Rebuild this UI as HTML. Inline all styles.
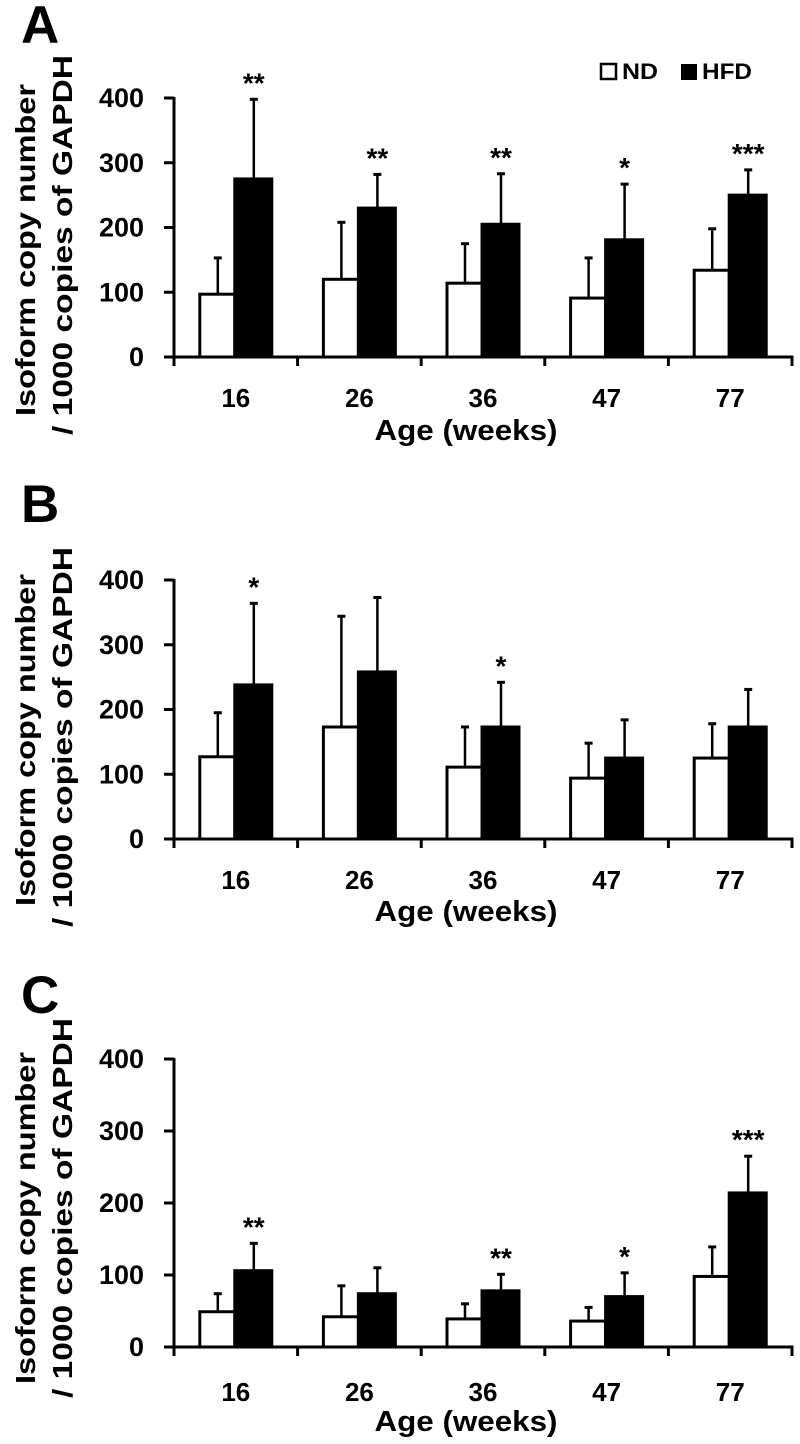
<!DOCTYPE html>
<html><head><meta charset="utf-8"><style>
html,body{margin:0;padding:0;background:#fff;}
svg{display:block;font-family:"Liberation Sans",sans-serif;font-weight:bold;}
</style></head><body>
<svg id="chart" width="800" height="1444" viewBox="0 0 800 1444" xmlns="http://www.w3.org/2000/svg">
<rect x="0" y="0" width="800" height="1444" fill="#fff"/>
<g>
<rect x="601" y="64" width="15" height="15" fill="#fff" stroke="#000" stroke-width="2.5"/>
<text x="622" y="79" font-size="22" textLength="36" lengthAdjust="spacingAndGlyphs">ND</text>
<rect x="681" y="64" width="16" height="16" fill="#000"/>
<text x="702" y="79" font-size="22" textLength="50" lengthAdjust="spacingAndGlyphs">HFD</text>
</g>
</svg>
<script>
const categories = ["16","26","36","47","77"];
const yTicks = [0,100,200,300,400];
const ndA = [97,120,114,91,134];
const ndSdA = [56,88,61,62,64];
const hfdA = [275,230,205,181,250];
const hfdSdA = [123,52,78,86,39];
const starsA = ["**","**","**","*","***"];
const ndB = [127,173,111,94,125];
const ndSdB = [68,171,62,54,53];
const hfdB = [238,258,173,125,173];
const hfdSdB = [126,115,69,59,58];
const starsB = ["*","","*","",""];
const ndC = [49,42,39,36,98];
const ndSdC = [25,43,21,19,41];
const hfdC = [106,74,78,70,214];
const hfdSdC = [38,36,23,33,51];
const starsC = ["**","","**","*","***"];

const NS = "http://www.w3.org/2000/svg";
const svg = document.getElementById("chart");
function mk(tag, attrs, parent){
  const e = document.createElementNS(NS, tag);
  for (const k in attrs) e.setAttribute(k, attrs[k]);
  (parent||svg).appendChild(e);
  return e;
}
const X0 = 174, X1 = 792, YMAX = 400;
function drawPanel(id, letter, letterY, yTop, yZero, nd, ndSd, hfd, hfdSd, stars, labelY, ageY, titleC1, titleC2){
  const g = mk("g", {});
  
  
  const yS = v => yZero - (v / YMAX) * (yZero - yTop);
  const gw = (X1 - X0) / categories.length;
  const xC = i => X0 + gw * (i + 0.5);

  const L = mk("text", {x: 21, y: letterY, "font-size": 53}, g);
  L.textContent = letter;
  
  

  const t1 = mk("text", {transform: "translate(35," + titleC1 + ") rotate(-90)", "text-anchor": "middle", "font-size": 28, textLength: 332, lengthAdjust: "spacingAndGlyphs"}, g);
  t1.textContent = "Isoform  copy  number";
  
  
  const t2 = mk("text", {transform: "translate(72," + titleC2 + ") rotate(-90)", "text-anchor": "middle", "font-size": 28, textLength: 380, lengthAdjust: "spacingAndGlyphs"}, g);
  t2.textContent = "/ 1000 copies of GAPDH";
  
  

  for (let i = 0; i < categories.length; i++){
    const c = xC(i);
    const nTop = yS(nd[i]), hTop = yS(hfd[i]);
    const ne = yS(nd[i] + ndSd[i]), he = yS(hfd[i] + hfdSd[i]);
    const ec1 = mk("line", {x1: c - 18, x2: c - 18, y1: nTop, y2: ne, stroke: "#000", "stroke-width": 2.5}, g);
    
    
    const cap1 = mk("line", {x1: c - 22, x2: c - 14, y1: ne, y2: ne, stroke: "#000", "stroke-width": 3}, g);
    
    
    const ec2 = mk("line", {x1: c + 18, x2: c + 18, y1: hTop, y2: he, stroke: "#000", "stroke-width": 2.5}, g);
    
    
    const cap2 = mk("line", {x1: c + 14, x2: c + 22, y1: he, y2: he, stroke: "#000", "stroke-width": 3}, g);
    
    
    const b1 = mk("rect", {x: c - 36, y: nTop, width: 35, height: yZero - nTop, fill: "#fff", stroke: "#000", "stroke-width": 3}, g);
    
    
    const b2 = mk("rect", {x: c - 1, y: hTop, width: 37, height: yZero - hTop, fill: "#000", stroke: "#000", "stroke-width": 3}, g);
    
    
    if (stars[i]){
      const s = mk("text", {x: c + 18, y: he - 7, "text-anchor": "middle", "font-size": 28}, g);
      s.textContent = stars[i];
      
      
    }
    const lb = mk("text", {x: c, y: labelY, "text-anchor": "middle", "font-size": 26}, g);
    lb.textContent = categories[i];
    
    
  }
  const ya = mk("line", {x1: X0, x2: X0, y1: yTop - 1, y2: yZero + 1.5, stroke: "#000", "stroke-width": 3}, g);
  
  
  const xa = mk("line", {x1: X0 - 10, x2: X1 + 1.5, y1: yZero, y2: yZero, stroke: "#000", "stroke-width": 3}, g);
  
  
  for (const v of yTicks){
    const y = yS(v);
    const tk = mk("line", {x1: X0 - 10, x2: X0, y1: y, y2: y, stroke: "#000", "stroke-width": 3}, g);
    
    
    const tl = mk("text", {x: 144, y: y + 9, "text-anchor": "end", "font-size": 27}, g);
    tl.textContent = v;
    
    
  }
  for (let i = 0; i <= categories.length; i++){
    const x = X0 + gw * i;
    const tk = mk("line", {x1: x, x2: x, y1: yZero, y2: yZero + 9, stroke: "#000", "stroke-width": 3}, g);
    
    
  }
  const at = mk("text", {x: 466, y: ageY, "text-anchor": "middle", "font-size": 29, textLength: 183, lengthAdjust: "spacingAndGlyphs"}, g);
  at.textContent = "Age  (weeks)";
  
  
}
drawPanel("a", "A", 43, 98, 357, ndA, ndSdA, hfdA, hfdSdA, starsA, 407, 440, 250, 245);
drawPanel("b", "B", 522, 580, 839, ndB, ndSdB, hfdB, hfdSdB, starsB, 889, 921, 740, 737);
drawPanel("c", "C", 1013, 1059, 1347, ndC, ndSdC, hfdC, hfdSdC, starsC, 1401, 1431, 1218, 1208);
</script>
</body></html>
